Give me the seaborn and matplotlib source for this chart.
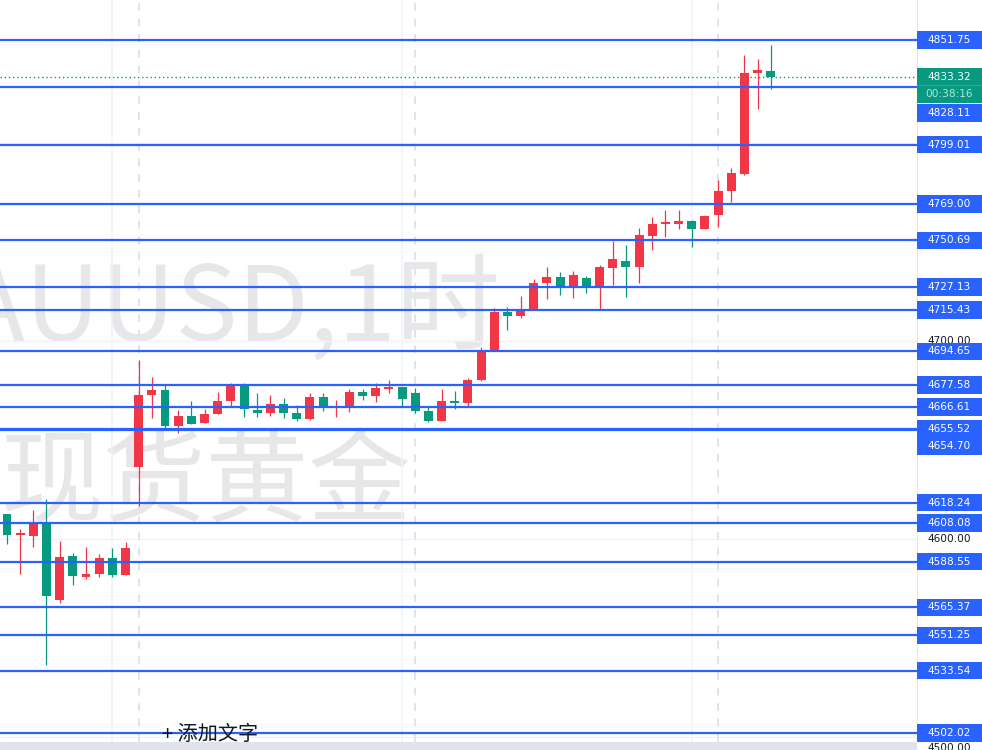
import numpy as np
import pandas as pd
import matplotlib
matplotlib.use("Agg")
import matplotlib.pyplot as plt
import seaborn as sns
from matplotlib.patches import Rectangle

# ---------------- data ----------------
opens = [4612.5, 4601.9, 4601.4, 4608.0, 4569.1, 4591.3, 4580.8, 4582.3, 4590.3, 4581.8,
         4636.3, 4672.6, 4675.1, 4657.0, 4662.0, 4658.5, 4663.0, 4669.6, 4677.1, 4665.0,
         4663.5, 4668.1, 4663.5, 4660.5, 4671.6, 4666.0, 4666.5, 4674.1, 4672.1, 4675.6,
         4676.6, 4673.6, 4664.5, 4659.5, 4669.6, 4668.6, 4680.2, 4695.3, 4714.5, 4712.5,
         4716.0, 4729.1, 4732.1, 4727.6, 4731.6, 4727.6, 4736.7, 4740.2, 4737.2, 4752.8,
         4759.1, 4758.9, 4760.4, 4756.4, 4763.4, 4775.5, 4784.1, 4835.1, 4836.1]
highs = [4612.5, 4605.0, 4614.5, 4620.1, 4598.9, 4592.9, 4595.9, 4592.4, 4595.4, 4598.4,
         4690.3, 4681.7, 4678.1, 4665.0, 4669.6, 4665.5, 4674.1, 4678.7, 4678.7, 4673.6,
         4672.6, 4671.1, 4667.5, 4673.6, 4673.6, 4670.1, 4675.6, 4675.6, 4678.7, 4680.2,
         4676.6, 4676.1, 4666.5, 4675.6, 4674.6, 4681.2, 4696.8, 4716.5, 4717.0, 4722.6,
         4731.1, 4737.2, 4734.7, 4735.2, 4732.7, 4738.2, 4750.3, 4748.3, 4756.9, 4762.4,
         4766.0, 4766.0, 4760.9, 4763.4, 4781.1, 4787.2, 4844.2, 4842.2, 4849.2]
lows = [4597.4, 4582.3, 4595.9, 4536.3, 4567.6, 4576.7, 4579.7, 4580.8, 4580.8, 4581.8,
        4616.6, 4661.0, 4655.9, 4653.4, 4658.0, 4658.5, 4663.0, 4666.5, 4661.5, 4661.5,
        4662.0, 4661.0, 4659.5, 4660.0, 4664.5, 4661.5, 4664.0, 4670.1, 4669.1, 4673.6,
        4667.0, 4663.5, 4659.0, 4659.5, 4665.5, 4667.0, 4679.7, 4694.8, 4705.4, 4711.4,
        4715.5, 4721.0, 4723.1, 4721.5, 4724.1, 4715.5, 4728.1, 4722.0, 4729.1, 4745.8,
        4752.3, 4756.4, 4747.3, 4756.4, 4757.4, 4770.0, 4783.6, 4816.9, 4827.0]
closes = [4601.9, 4602.2, 4608.0, 4571.2, 4590.8, 4581.3, 4582.3, 4590.3, 4581.8, 4595.4,
          4672.6, 4675.1, 4657.0, 4662.0, 4658.0, 4663.0, 4669.6, 4677.1, 4665.5, 4663.5,
          4668.1, 4663.5, 4660.5, 4671.6, 4666.5, 4666.5, 4674.1, 4672.1, 4676.1, 4676.6,
          4670.6, 4664.5, 4659.5, 4669.6, 4668.6, 4680.2, 4695.3, 4714.5, 4712.5, 4716.0,
          4729.1, 4732.1, 4727.6, 4733.2, 4727.6, 4737.2, 4741.2, 4737.2, 4753.3, 4758.9,
          4759.6, 4760.4, 4756.4, 4762.9, 4775.5, 4784.6, 4835.1, 4836.6, 4833.32]

levels = [4851.75, 4828.11, 4799.01, 4769.00, 4750.69, 4727.13, 4715.43, 4694.65,
          4677.58, 4666.61, 4655.52, 4654.70, 4618.24, 4608.08, 4588.55, 4565.37,
          4551.25, 4533.54, 4502.02]
last_price = 4833.32
countdown = "00:38:16"
grid_ticks = [4800.00, 4700.00, 4600.00, 4500.00]
axis_ticks = [4700.00, 4600.00, 4500.00]
axis_tick_labels = ["4700.00", "4600.00", "4500.00"]
symbol_text = "XAUUSD,1时"
name_text = "现货黄金"
add_text = "+ 添加文字"
grid_bars = [8, 30, 52]
session_bars = [10, 31, 54]

# ---------------- style ----------------
sns.set_theme(style="white")
plt.rcParams["font.family"] = ["DejaVu Sans", "Noto Sans CJK SC"]

UP = "#f23645"
DOWN = "#089981"
BLUE = "#2962ff"
GRID = "#f0f3fa"

W, H = 982, 750
fig = plt.figure(figsize=(W / 100, H / 100), dpi=100)
fig.patch.set_facecolor("white")

pane_w, pane_h, strip_h = 917, 742, 8
ax = fig.add_axes([0, strip_h / H, pane_w / W, pane_h / H])
rax = fig.add_axes([pane_w / W, strip_h / H, (W - pane_w) / W, pane_h / H])

ymin, ymax = 4497.47, 4871.94
upp = (ymax - ymin) / pane_h  # price units per pixel
for a in (ax, rax):
    a.set_ylim(ymin, ymax)
    a.set_xticks([])
    a.set_yticks([])
    a.set_facecolor("white")
    for s in a.spines.values():
        s.set_visible(False)
ax.set_xlim(-0.53, 69.1)
rax.set_xlim(0, 1)
rax.axvline(0, color="#e0e3eb", lw=1.2)

# bottom strip (time axis border)
fig.patches.append(Rectangle((0, 0), pane_w / W, strip_h / H, transform=fig.transFigure,
                             facecolor="#e0e3eb", edgecolor="none"))

# watermark
ax.text(500 / pane_w, 1 - 340 / pane_h, symbol_text, transform=ax.transAxes,
        ha="right", va="baseline", fontsize=75, color="#e7e7ea",
        family=["Noto Sans CJK SC"], zorder=0)
ax.text(1 / pane_w, 1 - 514 / pane_h, name_text, transform=ax.transAxes,
        ha="left", va="baseline", fontsize=74, color="#e7e7ea",
        family=["Noto Sans CJK SC"], zorder=0)

# grid
for t in grid_ticks:
    ax.axhline(t, color=GRID, lw=1, zorder=0.5)
for g in grid_bars:
    ax.axvline(g, color=GRID, lw=1.2, zorder=0.5)
for s in session_bars:
    ax.axvline(s, color="#e0e3eb", lw=1.4, ls=(0, (4, 4)), zorder=0.6)

# candles
df = pd.DataFrame({"open": opens, "high": highs, "low": lows, "close": closes})
df["x"] = np.arange(len(df))
df["color"] = np.where(df["close"] >= df["open"], UP, DOWN)
df["bottom"] = df[["open", "close"]].min(axis=1)
df["height"] = (df["close"] - df["open"]).abs().clip(lower=1.0)
ax.vlines(df["x"], df["low"], df["high"], colors=df["color"], lw=0.9, zorder=2)
ax.bar(df["x"], df["height"], bottom=df["bottom"], width=0.68, color=df["color"],
       linewidth=0, zorder=2.1)

# current price dotted line
ax.axhline(last_price, color=DOWN, lw=1, ls=(0, (1, 2)), zorder=2.5)

# horizontal levels
for v in levels:
    ax.axhline(v, color=BLUE, lw=1.6, zorder=3)

# price scale labels
box_h = 17.5 * upp
for t, lab in zip(axis_ticks, axis_tick_labels):
    ty = t if t > 4550 else t - 11 * upp
    rax.text(0.5, ty, lab, ha="center", va="center", fontsize=7.6, color="#131722",
             zorder=1, clip_on=False)

label_shift = {1: -13.2, 11: -7.9}
for i, v in enumerate(levels):
    yc = v + label_shift.get(i, 0.0)
    rax.add_patch(Rectangle((0, yc - box_h / 2), 1, box_h, facecolor=BLUE,
                            edgecolor="none", zorder=3, clip_on=False))
    rax.text(0.5, yc, f"{v:.2f}", ha="center", va="center", fontsize=7.6,
             color="white", zorder=4, clip_on=False)

# last price + countdown
rax.add_patch(Rectangle((0, last_price - box_h / 2 - box_h), 1, 2 * box_h,
                        facecolor=DOWN, edgecolor="none", zorder=5))
rax.plot([0, 1], [last_price - box_h / 2] * 2, color="#2aa791", lw=0.8, zorder=5.5)
rax.text(0.5, last_price, f"{last_price:.2f}", ha="center", va="center",
         fontsize=7.6, color="white", zorder=6)
rax.text(0.5, last_price - box_h, countdown, ha="center", va="center",
         fontsize=7.6, color="#b8e2da", zorder=6)

# "+ 添加文字"
ax.text(162 / pane_w, 1 - 734 / pane_h, add_text, transform=ax.transAxes,
        ha="left", va="center", fontsize=14.5, color="#131722",
        family=["Noto Sans CJK SC", "DejaVu Sans"], zorder=6)

fig.savefig("out.png", dpi=100, facecolor="white")
